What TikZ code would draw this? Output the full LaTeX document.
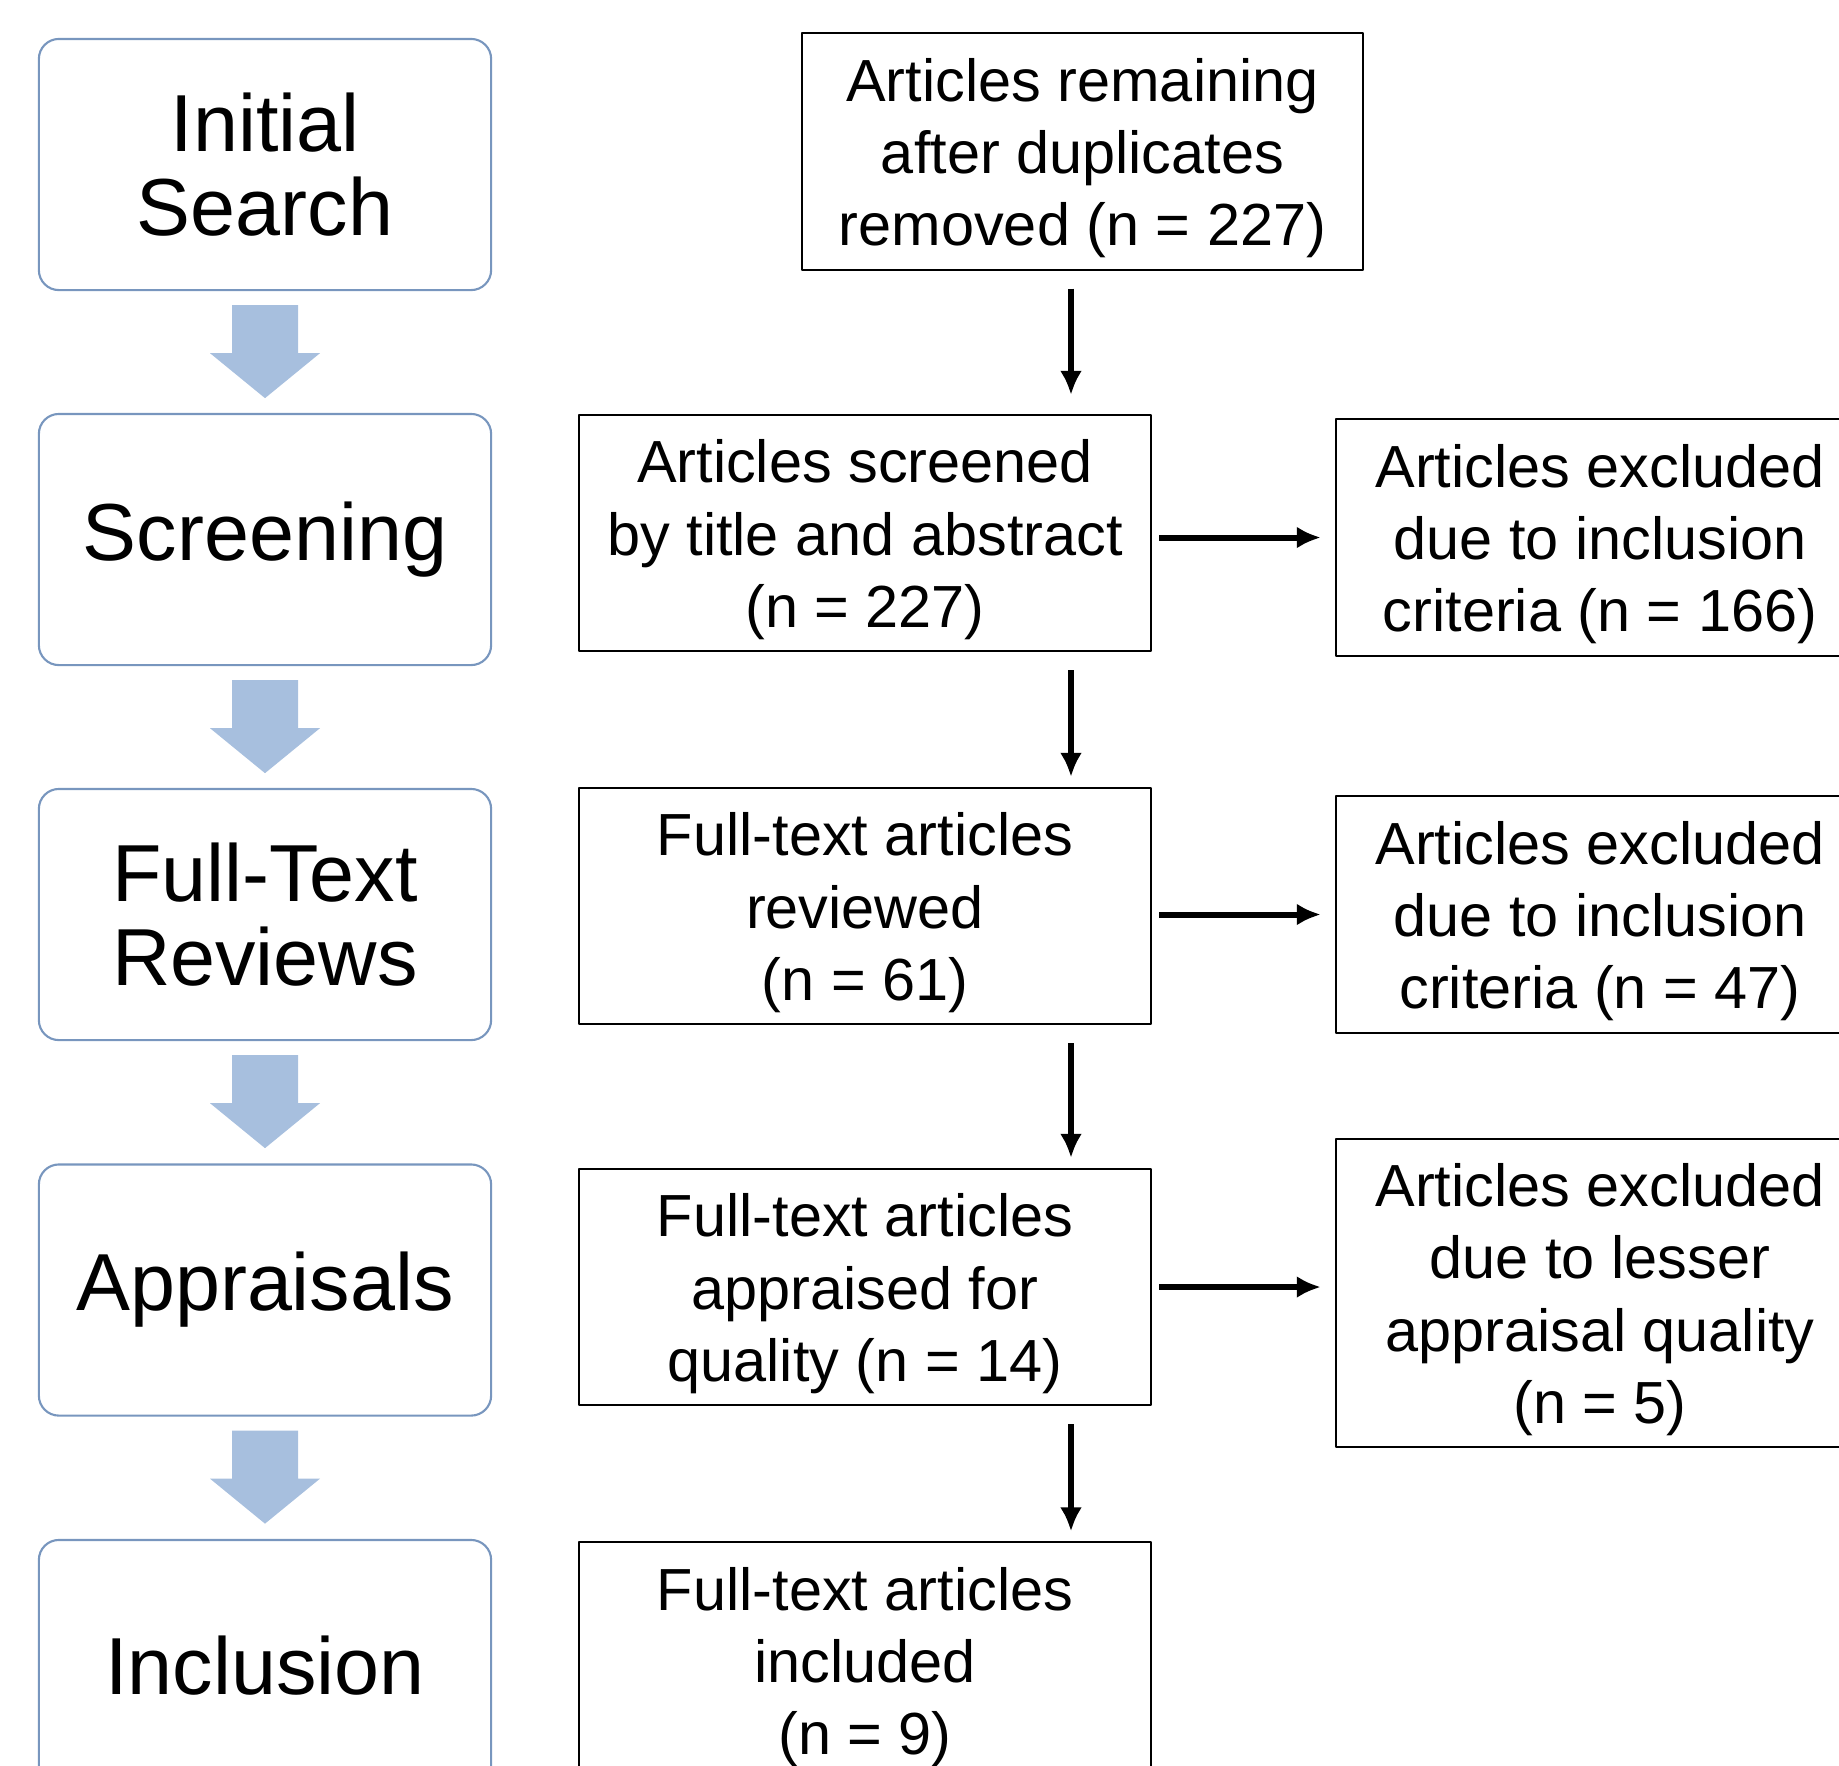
\documentclass[tikz,border=0pt]{standalone}
\usepackage{fontspec}
\setmainfont{Liberation Sans}
\usetikzlibrary{arrows.meta}

\definecolor{stageline}{RGB}{120,150,190}
\definecolor{stagefill}{RGB}{167,191,222}
\newcommand\topstrut{\rule{0pt}{16pt}}

\tikzset{
  stage/.style={draw=stageline, line width=0.6pt, rounded corners=0.2cm,
    minimum width=4.52cm, minimum height=2.51cm, align=center,
    font=\fontsize{23}{24}\selectfont},
  count/.style={draw, line width=0.6pt, minimum width=5.72cm, minimum height=2.35cm,
    align=center, font=\fontsize{16.9}{20.5}\selectfont},
  excl/.style={count, minimum width=5.28cm},
  flow/.style={->, line width=1.7pt, shorten <=0.18cm, shorten >=0.1cm},
  side/.style={->, line width=1.7pt, shorten <=0.07cm, shorten >=0.14cm},
  stagearrow/.style={fill=stagefill, draw=none},
}

\begin{document}
\begin{tikzpicture}[x=0.01cm,y=-0.01cm,>={Latex[length=0.24cm,width=0.22cm]},line join=bevel]
\path[use as bounding box, clip] (0,0) rectangle (1839,1765);
%%
\node (stage_0) at (265,164.5) [stage] {Initial\\Search};
  \node (stage_1) at (265,539.5) [stage] {Screening};
  \node (stage_2) at (265,914.5) [stage] {Full-Text\\Reviews};
  \node (stage_3) at (265,1290) [stage] {Appraisals};
  \node (stage_4) at (265,1665.5) [stage] {Inclusion};
%
\node (node_0) at (1082.5,151.5) [count, minimum width=5.61cm] {\topstrut Articles remaining\\after duplicates\\removed (n = 227)};
  \node (node_1) at (865,533) [count] {\topstrut Articles screened\\by title and abstract\\(n = 227)};
  \node (node_2) at (865,906) [count] {\topstrut Full-text articles\\reviewed\\(n = 61)};
  \node (node_3) at (865,1287) [count] {\topstrut Full-text articles\\appraised for\\quality (n = 14)};
  \node (node_4) at (865,1660.5) [count] {\topstrut Full-text articles\\included\\(n = 9)};
%
\node (excl_0) at (1600,537.5) [excl, minimum height=2.37cm] {\topstrut Articles excluded\\due to inclusion\\criteria (n = 166)};
  \node (excl_1) at (1600,914.5) [excl] {\topstrut Articles excluded\\due to inclusion\\criteria (n = 47)};
  \node (excl_2) at (1600,1293) [excl, minimum height=3.08cm] {\topstrut Articles excluded\\due to lesser\\appraisal quality\\(n = 5)};
\coordinate (axis) at (1071,0);
%
\draw [flow, shorten >=0.19cm] (node_0.south -| axis) -- (node_1.north -| axis);
  \draw [flow] (node_1.south -| axis) -- (node_2.north -| axis);
  \draw [flow] (node_2.south -| axis) -- (node_3.north -| axis);
  \draw [flow] (node_3.south -| axis) -- (node_4.north -| axis);
  \draw [side] (node_1.east |- excl_0.west) -- (excl_0.west);
  \draw [side] (node_2.east |- excl_1.west) -- (excl_1.west);
  \draw [side] (node_3.east) -- (node_3.east -| excl_2.west);
%
\foreach \s in {0,1,2,3}
  \fill [stagearrow] ([yshift=-0.14cm]stage_\s.south) ++(-33,0) -- ++(66,0) -- ++(0,48)
    -- ++(22,0) -- ++(-55,45) -- ++(-55,-45) -- ++(22,0) -- cycle;
%
\end{tikzpicture}
\end{document}
